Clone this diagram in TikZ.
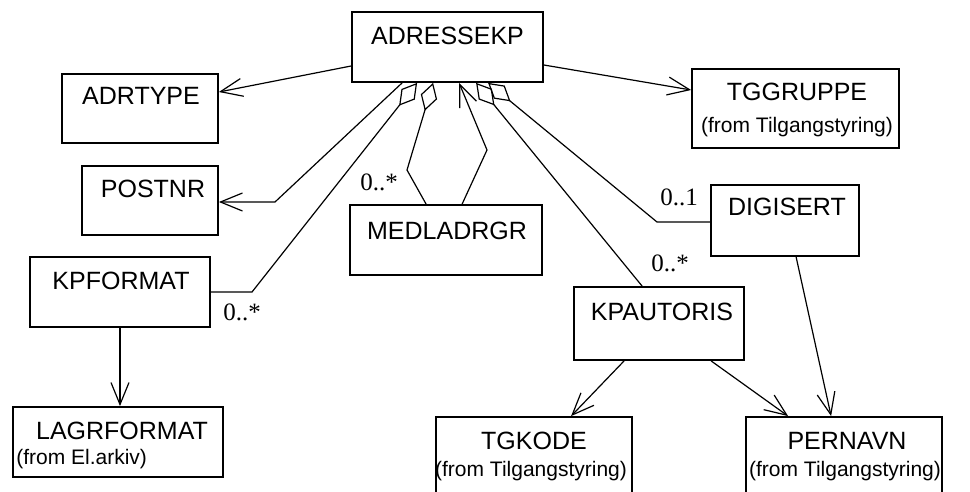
\documentclass[tikz,border=0pt]{standalone}
\usepackage{fontspec}
\setmainfont{Liberation Sans}
\newfontfamily\multfont{Liberation Serif}
\usetikzlibrary{arrows.meta}
\tikzset{
  umlbox/.style={draw, line width=1.8pt, inner sep=0pt, fill=white},
  cname/.style={inner sep=0pt, font=\fontsize{25}{25}\selectfont},
  cfrom/.style={inner sep=0pt, font=\fontsize{21}{21}\selectfont},
  mult/.style={inner sep=0pt, font=\multfont\fontsize{25}{25}\selectfont},
  conn/.style={line width=1.2pt},
  navarrow/.style={conn, -{Straight Barb[length=22pt,width=18pt]}},
  aggr/.style={conn, -{Diamond[open,length=29pt,width=17pt]}},
}
\begin{document}
\begin{tikzpicture}[x=1pt,y=-1pt]
\useasboundingbox (0,0) rectangle (970,492);

% boxes
\node[umlbox, minimum width=191pt, minimum height=70pt] (adr) at (447.5,47) {};
\node[umlbox, minimum width=156pt, minimum height=69pt] (adrtype) at (140,108.5) {};
\node[umlbox, minimum width=136pt, minimum height=69pt] (postnr) at (150,200.5) {};
\node[umlbox, minimum width=180pt, minimum height=70pt] (kpf) at (120,292) {};
\node[umlbox, minimum width=210pt, minimum height=70pt] (lagr) at (118,442) {};
\node[umlbox, minimum width=192pt, minimum height=70pt] (medl) at (446,240) {};
\node[umlbox, minimum width=207pt, minimum height=79pt] (tgg) at (795.5,108.5) {};
\node[umlbox, minimum width=148pt, minimum height=71pt] (digi) at (785,220.5) {};
\node[umlbox, minimum width=170pt, minimum height=73pt] (kpa) at (659,323.5) {};
\node[umlbox, minimum width=196pt, minimum height=80pt] (tgk) at (534,457) {};
\node[umlbox, minimum width=196pt, minimum height=80pt] (pern) at (844,457) {};

% texts
\node[cname] (adr-t) at ([yshift=-25pt]adr.north) {ADRESSEKP};
\node[cname] (adrtype-t) at ([xshift=1pt,yshift=-23pt]adrtype.north) {ADRTYPE};
\node[cname] (postnr-t) at ([xshift=3pt,yshift=-24pt]postnr.north) {POSTNR};
\node[cname] (kpf-t) at ([xshift=1pt,yshift=-25pt]kpf.north) {KPFORMAT};
\node[cname] (lagr-t) at ([xshift=4pt,yshift=-25pt]lagr.north) {LAGRFORMAT};
\node[cfrom, anchor=west] (lagr-f) at ([xshift=4pt,yshift=-53pt]lagr.north west) {(from El.arkiv)};
\node[cname] (medl-t) at ([xshift=1pt,yshift=-27pt]medl.north) {MEDLADRGR};
\node[cname] (tgg-t) at ([xshift=1.5pt,yshift=-24pt]tgg.north) {TGGRUPPE};
\node[cfrom] (tgg-f) at ([xshift=1.5pt,yshift=-59pt]tgg.north) {(from Tilgangstyring)};
\node[cname] (digi-t) at ([xshift=2pt,yshift=-23pt]digi.north) {DIGISERT};
\node[cname] (kpa-t) at ([xshift=3pt,yshift=-26pt]kpa.north) {KPAUTORIS};
\node[cname] (tgk-t) at ([yshift=-25pt]tgk.north) {TGKODE};
\node[cfrom] (tgk-f) at ([xshift=-3pt,yshift=-55pt]tgk.north) {(from Tilgangstyring)};
\node[cname] (pern-t) at ([xshift=3pt,yshift=-25pt]pern.north) {PERNAVN};
\node[cfrom] (pern-f) at ([xshift=1pt,yshift=-55pt]pern.north) {(from Tilgangstyring)};

% connectors
\draw[navarrow] ([yshift=-19pt]adr.west) -- ([yshift=16.5pt]adrtype.east);
\draw[navarrow] ([yshift=-18pt]adr.east) -- ([yshift=18.5pt]tgg.west);
\draw[navarrow] ([xshift=51pt]adr.south west) -- (275,202) -- ([yshift=-1.5pt]postnr.east);
\draw[aggr] (kpf.east) -- (252,292) -- ([xshift=66pt]adr.south west);
\draw[aggr] ([xshift=77pt]medl.north west) -- (407,170) -- ([xshift=82pt]adr.south west);
\draw[navarrow] ([xshift=113pt]medl.north west) -- (487,150) -- ([xshift=108pt]adr.south west);
\draw[aggr] ([xshift=69pt]kpa.north west) -- ([xshift=125pt]adr.south west);
\draw[aggr] ([yshift=-1.5pt]digi.west) -- (657,222) -- ([xshift=137pt]adr.south west);
\draw[navarrow] ([xshift=51pt]kpa.south west) -- ([xshift=136pt]tgk.north west);
\draw[navarrow] ([xshift=138pt]kpa.south west) -- ([xshift=43pt]pern.north west);
\draw[navarrow] ([xshift=86pt]digi.south west) -- ([xshift=86pt]pern.north west);
\draw[navarrow] (kpf.south) -- (kpf.south |- lagr.north);

% multiplicities
\node[mult] (m-kpf) at (242,312) {0..*};
\node[mult] (m-medl) at (379,182) {0..*};
\node[mult] (m-digi) at (679,197) {0..1};
\node[mult] (m-kpa) at (670,263) {0..*};
\end{tikzpicture}
\end{document}
